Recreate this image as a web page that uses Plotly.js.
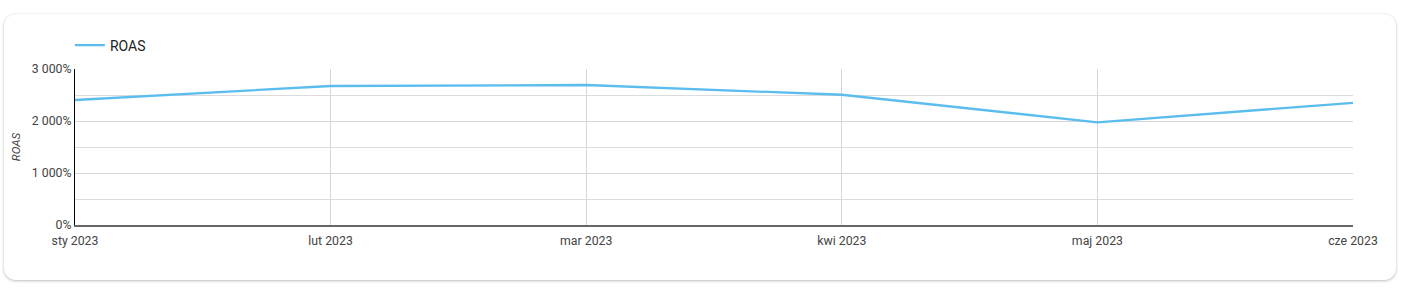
<!DOCTYPE html>
<html>
<head>
<meta charset="utf-8">
<script src="https://cdn.plot.ly/plotly-3.0.1.min.js"></script>
<style>
  html, body { margin:0; padding:0; background:#ffffff; width:1405px; height:292px; overflow:hidden; }
  #card { position:absolute; left:4px; top:14px; width:1392px; height:266px; background:#fff; border-radius:12px;
          box-shadow: 0 1px 3px rgba(0,0,0,0.25), 0 0 2px rgba(0,0,0,0.06); }
  #chart { position:absolute; left:0; top:0; width:1405px; height:292px; }
</style>
</head>
<body>
<div id="card"></div>
<div id="chart"></div>
<script>
const months = ["sty 2023", "lut 2023", "mar 2023", "kwi 2023", "maj 2023", "cze 2023"];
const roas = [2404, 2673, 2692, 2505, 1975, 2350];
const yTickVals = [0, 1000, 2000, 3000];
const yTickText = ["0%", "1 000%", "2 000%", "3 000%"];

const trace = {
  x: months, y: roas, type: 'scatter', mode: 'lines', name: 'ROAS',
  line: { color: '#5bbdee', width: 2.3 }
};

const layout = {
  width: 1405, height: 292,
  margin: { l: 75, r: 52, t: 69, b: 67 },
  paper_bgcolor: 'rgba(0,0,0,0)', plot_bgcolor: 'rgba(0,0,0,0)',
  font: { family: 'Roboto, sans-serif', size: 12, color: '#444' },
  showlegend: true,
  legend: { orientation: 'h', x: -0.004, xanchor: 'left', y: 1.15, yanchor: 'middle',
            font: { size: 14, color: '#222' }, bgcolor: 'rgba(0,0,0,0)' },
  xaxis: {
    type: 'category', range: [0, 5], showgrid: true, gridcolor: '#d6d6d6', gridwidth: 1,
    showline: true, linecolor: '#666', linewidth: 2, ticks: '', ticklabelstandoff: 3,
    tickfont: { size: 12.3, color: '#444' }, zeroline: false, fixedrange: true
  },
  yaxis: {
    range: [0, 3000], tickvals: yTickVals, ticktext: yTickText, showgrid: true, gridcolor: '#d6d6d6',
    minor: { dtick: 500, showgrid: true, gridcolor: '#dcdcdc', gridwidth: 1 },
    showline: true, linecolor: '#000', linewidth: 1, ticks: '', zeroline: false,
    tickfont: { size: 12.3, color: '#444' },
    title: { text: '<i>ROAS</i>', font: { size: 11.5, color: '#444' }, standoff: 8 }
  }
};

Plotly.newPlot('chart', [trace], layout, { displayModeBar: false, staticPlot: true });
</script>
</body>
</html>
